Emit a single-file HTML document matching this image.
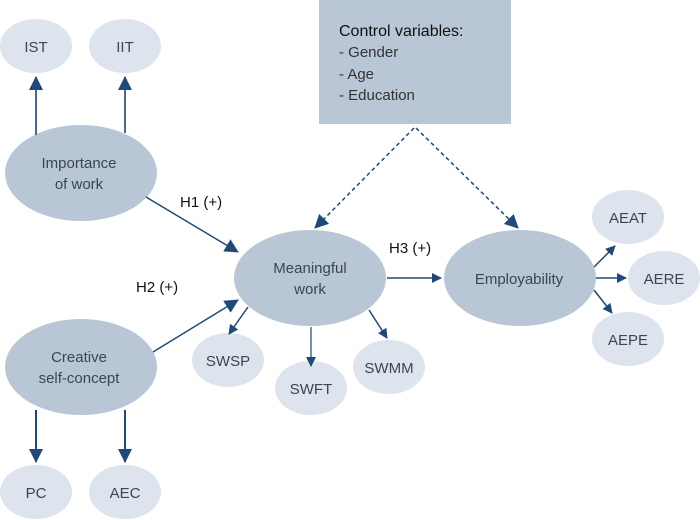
<!DOCTYPE html>
<html><head><meta charset="utf-8"><style>body{margin:0;background:#fff}svg{display:block}</style></head><body>
<svg width="700" height="520" viewBox="0 0 700 520" xmlns="http://www.w3.org/2000/svg" font-family="Liberation Sans, sans-serif">
<defs><marker id="a" markerWidth="10" markerHeight="10" refX="9" refY="5" orient="auto" markerUnits="userSpaceOnUse"><path d="M0,0 L10,5 L0,10z" fill="#1f4a78"/></marker>
<marker id="b" markerWidth="14" markerHeight="14" refX="13" refY="7" orient="auto" markerUnits="userSpaceOnUse"><path d="M0,0 L14,7 L0,14z" fill="#1f4a78"/></marker></defs>
<rect x="319" y="0" width="192" height="124" fill="#b8c6d6"/>
<text x="339" y="36" font-size="16" fill="#111">Control variables:</text>
<text x="339" y="57" font-size="15" fill="#333">- Gender</text>
<text x="339" y="79" font-size="15" fill="#333">- Age</text>
<text x="339" y="100" font-size="15" fill="#333">- Education</text>
<g fill="#dde4ed">
<ellipse cx="36" cy="46" rx="36" ry="27"/><ellipse cx="125" cy="46" rx="36" ry="27"/>
<ellipse cx="36" cy="492" rx="36" ry="27"/><ellipse cx="125" cy="492" rx="36" ry="27"/>
<ellipse cx="228" cy="360" rx="36" ry="27"/><ellipse cx="311" cy="388" rx="36" ry="27"/><ellipse cx="389" cy="367" rx="36" ry="27"/>
<ellipse cx="628" cy="217" rx="36" ry="27"/><ellipse cx="664" cy="278" rx="36" ry="27"/><ellipse cx="628" cy="339" rx="36" ry="27"/>
</g>
<g fill="#b8c6d6">
<ellipse cx="81" cy="173" rx="76" ry="48"/><ellipse cx="81" cy="367" rx="76" ry="48"/>
<ellipse cx="310" cy="278" rx="76" ry="48"/><ellipse cx="520" cy="278" rx="76" ry="48"/>
</g>
<g stroke="#1f4a78" stroke-width="1.5" fill="none">
<line x1="36" y1="135" x2="36" y2="77" stroke="#4a6a90" stroke-width="2" marker-end="url(#b)"/>
<line x1="125" y1="133" x2="125" y2="77" stroke="#4a6a90" stroke-width="2" marker-end="url(#b)"/>
<line x1="36" y1="410" x2="36" y2="462" stroke-width="2" marker-end="url(#b)"/>
<line x1="125" y1="410" x2="125" y2="462" stroke-width="2" marker-end="url(#b)"/>
<line x1="146" y1="197" x2="238" y2="252" marker-end="url(#b)"/>
<line x1="153" y1="352" x2="238" y2="300" marker-end="url(#b)"/>
<line x1="387" y1="278" x2="441" y2="278" marker-end="url(#a)"/>
<line x1="248" y1="307" x2="229" y2="334" marker-end="url(#a)"/>
<line x1="311" y1="327" x2="311" y2="366" stroke="#4a6a90" marker-end="url(#a)"/>
<line x1="369" y1="310" x2="387" y2="338" marker-end="url(#a)"/>
<line x1="594" y1="267" x2="615" y2="246" marker-end="url(#a)"/>
<line x1="596" y1="278" x2="626" y2="278" marker-end="url(#a)"/>
<line x1="594" y1="290" x2="612" y2="313" marker-end="url(#a)"/>
<line x1="414" y1="128" x2="315" y2="228" stroke-dasharray="4,3" marker-end="url(#b)"/>
<line x1="416" y1="128" x2="518" y2="228" stroke-dasharray="4,3" marker-end="url(#b)"/>
</g>
<g font-size="15" fill="#3a4656" text-anchor="middle">
<text x="36" y="52">IST</text><text x="125" y="52">IIT</text>
<text x="36" y="498">PC</text><text x="125" y="498">AEC</text>
<text x="228" y="366">SWSP</text><text x="311" y="394">SWFT</text><text x="389" y="373">SWMM</text>
<text x="628" y="223">AEAT</text><text x="664" y="284">AERE</text><text x="628" y="345">AEPE</text>
<text x="79" y="168">Importance</text><text x="79" y="189">of work</text>
<text x="79" y="362">Creative</text><text x="79" y="383">self-concept</text>
<text x="310" y="273">Meaningful</text><text x="310" y="294">work</text>
<text x="519" y="284">Employability</text>
</g>
<g font-size="15" fill="#111">
<text x="180" y="207">H1 (+)</text><text x="136" y="292">H2 (+)</text><text x="389" y="253">H3 (+)</text>
</g>
</svg>
</body></html>
